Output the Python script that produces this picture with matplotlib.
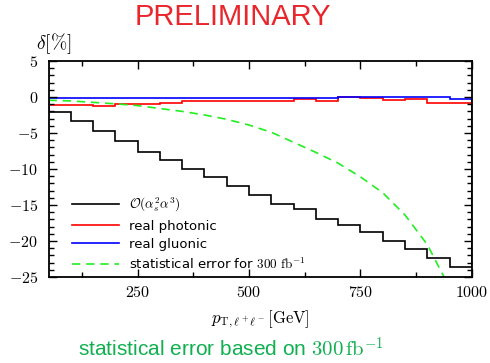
import matplotlib
matplotlib.use("Agg")
import matplotlib.pyplot as plt
from matplotlib.ticker import MultipleLocator, FuncFormatter

plt.rcParams["mathtext.fontset"] = "cm"

# =========================
# DATA
# =========================
bin_edges = [50, 100, 150, 200, 250, 300, 350, 400, 450, 500, 550,
             600, 650, 700, 750, 800, 850, 900, 950, 1000]

ew_corr = [-2.1, -3.3, -4.7, -6.1, -7.6, -8.8, -10.0, -11.1, -12.3, -13.6,
           -14.9, -15.6, -17.0, -17.8, -18.7, -20.0, -21.1, -22.3, -23.6]
real_photonic = [-1.05, -1.15, -1.2, -1.0, -1.0, -0.8, -0.6, -0.5, -0.5, -0.5,
                 -0.5, -0.3, -0.55, 0.0, -0.15, -0.4, -0.25, -0.85, -0.9]
real_gluonic = [-0.2, -0.2, -0.2, -0.2, -0.2, -0.2, -0.2, -0.2, -0.2, -0.2,
                -0.1, -0.1, -0.1, -0.05, -0.05, 0.0, 0.0, -0.05, -0.3]

stat_x = [50, 100, 150, 200, 250, 300, 350, 400, 450, 500, 550, 600,
          650, 700, 750, 800, 850, 900, 940]
stat_err = [-0.45, -0.55, -0.75, -0.95, -1.2, -1.6, -2.0, -2.5, -3.1, -3.9,
            -4.9, -6.3, -7.7, -9.2, -11.1, -13.3, -16.4, -20.5, -25.3]

# =========================
# PLOT
# =========================
fig = plt.figure(figsize=(4.9, 3.63), dpi=100)
ax = fig.add_axes([0.099, 0.237, 0.864, 0.595])

ax.stairs(ew_corr, bin_edges, color="black", lw=1.2,
          label=r"$\mathcal{O}(\alpha_s^2\alpha^3)$")
ax.stairs(real_photonic, bin_edges, color="red", lw=1.2, label="real photonic")
ax.stairs(real_gluonic, bin_edges, color="blue", lw=1.2, label="real gluonic")
ax.plot(stat_x, stat_err, color="#22ee22", lw=1.2, ls=(0, (5, 3.5)),
        label=r"statistical error for $300\ \mathrm{fb}^{-1}$")

ax.set_xlim(50, 1000)
ax.set_ylim(-25, 5)
ax.xaxis.set_major_locator(MultipleLocator(250))
ax.xaxis.set_minor_locator(MultipleLocator(125))
ax.yaxis.set_major_locator(MultipleLocator(5))
ax.yaxis.set_minor_locator(MultipleLocator(1))
cm_fmt = FuncFormatter(lambda v, pos: r"$%d$" % round(v))
ax.xaxis.set_major_formatter(cm_fmt)
ax.yaxis.set_major_formatter(cm_fmt)
ax.tick_params(which="both", direction="in", top=True, right=True,
               labelsize=11.5, width=1.0)
ax.tick_params(which="major", length=6)
ax.tick_params(which="minor", length=3.5)
ax.tick_params(axis="x", pad=6)
ax.tick_params(axis="y", pad=7.5)
for s in ax.spines.values():
    s.set_linewidth(1.3)

ax.legend(loc="lower left", frameon=False, fontsize=9.5, handlelength=3.6,
          handletextpad=0.7, labelspacing=0.4,
          bbox_to_anchor=(0.027, -0.03))

ax.set_xlabel(r"$p_{\mathrm{T},\ell^+\ell^-}[\mathrm{GeV}]$", fontsize=12,
              labelpad=6)
fig.text(0.11, 0.88, r"$\delta[\%]$", fontsize=14, ha="center", va="center")
fig.text(0.475, 0.953, "PRELIMINARY", color="#e8262c", fontsize=21,
         family="Liberation Sans", ha="center", va="center")
fig.text(0.472, 0.018, r"statistical error based on $300\,\mathrm{fb}^{-1}$",
         color="#10b050", fontsize=15, family="Liberation Sans",
         ha="center", va="baseline")

fig.savefig("out.png", dpi=100)
